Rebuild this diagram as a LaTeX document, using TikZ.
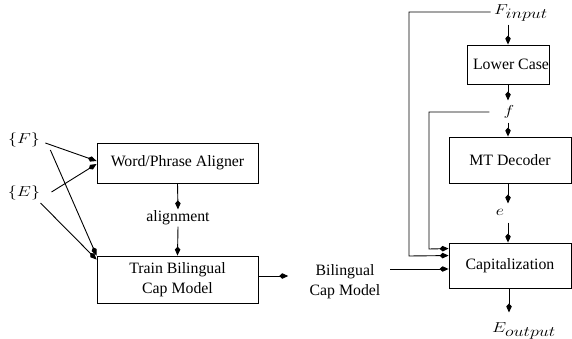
\documentclass[tikz,border=0pt]{standalone}
\usepackage{fontspec}
\setmainfont{Liberation Serif}
\usetikzlibrary{arrows.meta,calc}
\newcommand{\wm}[1]{\scalebox{1.25}[1]{$#1$}}
\begin{document}
\begin{tikzpicture}[x=1pt,y=-1pt,
  font=\fontsize{15.8}{19}\selectfont,
  line width=0.9pt,
  tip/.style={-{Kite[length=9pt,width=5.5pt,inset=3pt]}},
  box/.style={draw,minimum width=#1,inner sep=0pt},
  lbl/.style={inner sep=1pt}]
\useasboundingbox (0,0) rectangle (572,339);
% left part
\node[lbl] (F) at (24,140) {\wm{\{F\}}};
\node[lbl] (E) at (24,193) {\wm{\{E\}}};
\node[box=161pt,minimum height=40pt] (wpa) at (177.5,163) {Word/Phrase Aligner};
\node[lbl] (al) at (178,218) {alignment};
\node[box=161pt,minimum height=47pt,align=center] (tb) at (177.5,279.5) {Train Bilingual\\[1pt]Cap Model};
\node[lbl,align=center] (bcm) at (345,282) {Bilingual\\[1pt]Cap Model};
\draw[tip] ($(F.east)+(4,3)$) -- ($(wpa.west)+(0,-2)$);
\draw[tip] ($(E.east)+(10,-1)$) -- ($(wpa.west)+(0,1)$);
\draw[tip] ($(F.east)+(9,10)$) -- (tb.north west);
\draw[tip] ($(E.east)+(-1,10)$) -- ($(tb.north west)+(0,4)$);
\draw[tip] (wpa.south) -- (al.north);
\draw[tip] (al.south) -- (tb.north);
\draw[tip] ($(tb.east)+(0,-3.5)$) -- ($(bcm.west)+(-20,-6)$);
% right part
\node[lbl] (Fin) at (521,13) {\wm{F_{\textstyle input}}};
\node[box=80pt,minimum height=39pt] (lc) at (508,64.5) {\hspace*{6pt}Lower Case};
\node[lbl] (f) at (509,112) {\wm{f}};
\node[box=122pt,minimum height=46pt] (mt) at (510,160) {MT Decoder};
\node[lbl] (e) at (500,212) {\wm{e}};
\node[box=122pt,minimum height=45pt] (cap) at (510,265.5) {Capitalization};
\node[lbl] (Eout) at (524,331) {\wm{E_{\textstyle output}}};
\coordinate (bin) at (390,269);
\draw[tip] ($(lc.north)+(0,-20)$) -- (lc.north);
\draw[tip] (lc.south) -- ++(0,16);
\draw[tip] ($(mt.north)+(-2,-14)$) -- ($(mt.north)+(-2,0)$);
\draw[tip] ($(mt.south)+(-2,0)$) -- ++(0,20);
\draw[tip] ($(cap.north)+(-2,-20)$) -- ($(cap.north)+(-2,0)$);
\draw[tip] ($(cap.south)+(-1,0)$) -- ++(0,24);
% feedback lines
\draw[tip] ($(Fin.west)+(-2,-1)$) -| (409,256) -- ($(cap.north west)+(0,13)$);
\draw[tip] ($(f.west)+(-13,0)$) -| (429,249) -- ($(cap.north west)+(0,6)$);
\draw[tip] (bin) -- (bin -| cap.west);
\end{tikzpicture}
\end{document}
